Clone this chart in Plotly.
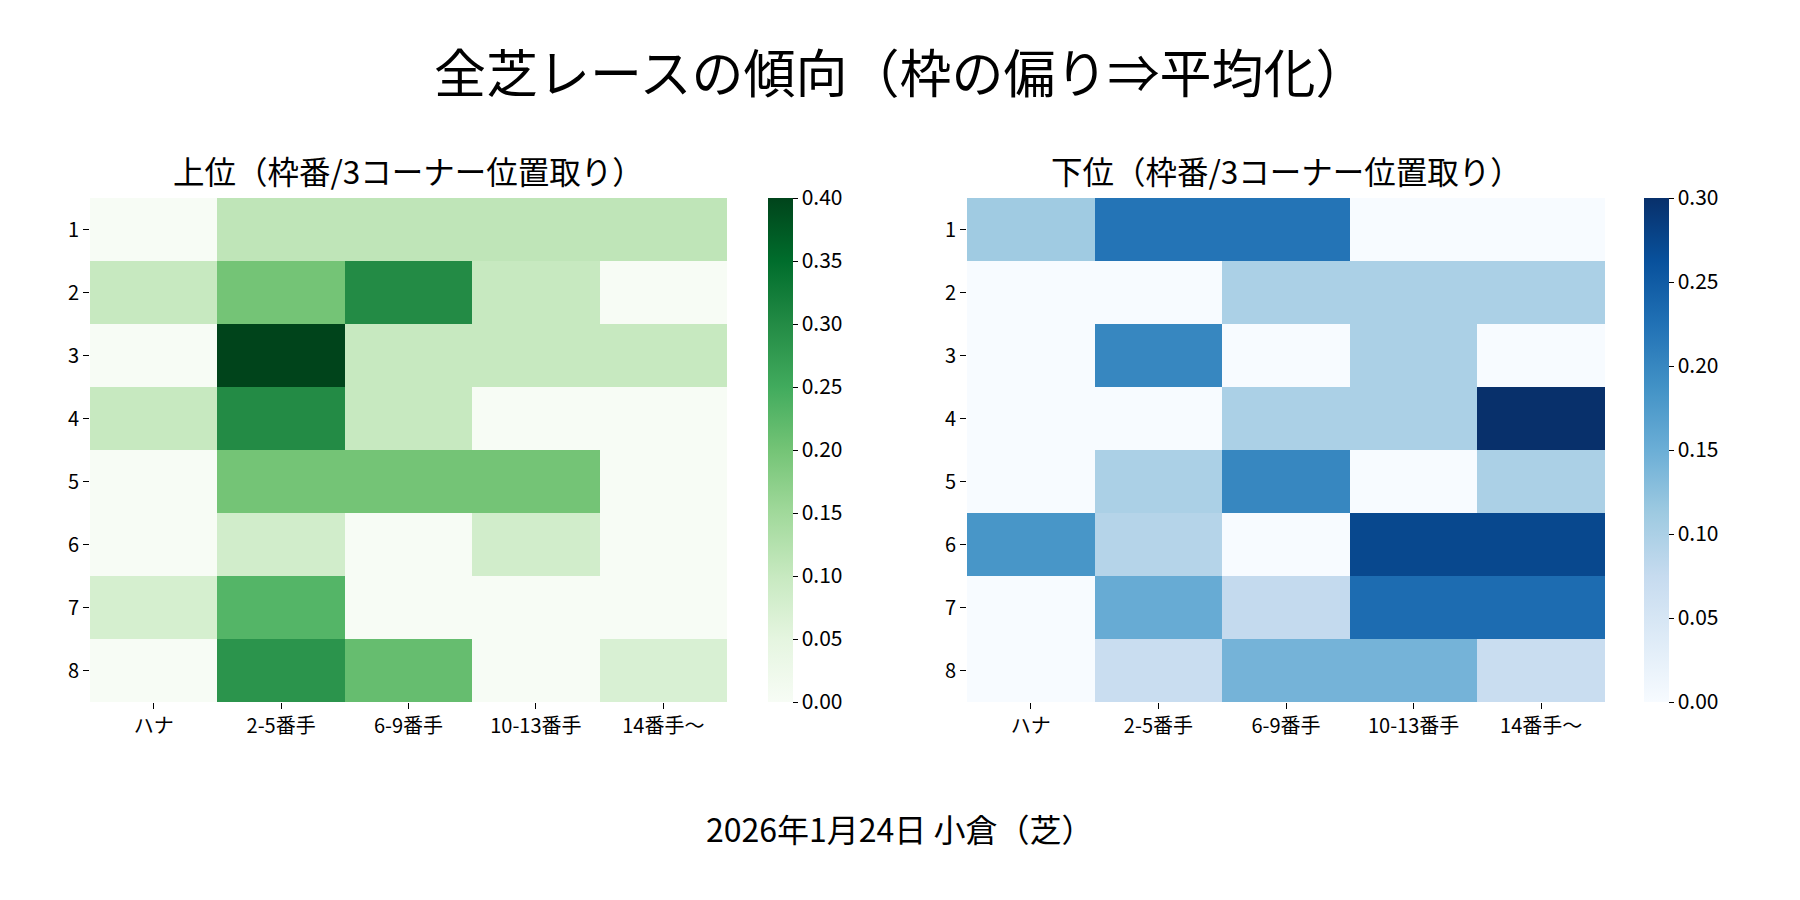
import plotly.graph_objects as go

# 枠番 x 3コーナー位置取り
waku = ["1", "2", "3", "4", "5", "6", "7", "8"]
ichi = ["ハナ", "2-5番手", "6-9番手", "10-13番手", "14番手〜"]

# 上位（3着以内）の割合
joui = [
    [0.0, 0.111, 0.111, 0.111, 0.111],
    [0.1, 0.2, 0.3, 0.1, 0.0],
    [0.0, 0.4, 0.1, 0.1, 0.1],
    [0.1, 0.3, 0.1, 0.0, 0.0],
    [0.0, 0.2, 0.2, 0.2, 0.0],
    [0.0, 0.083, 0.0, 0.083, 0.0],
    [0.077, 0.231, 0.0, 0.0, 0.0],
    [0.0, 0.286, 0.214, 0.0, 0.071],
]

# 下位の割合
kai = [
    [0.111, 0.222, 0.222, 0.0, 0.0],
    [0.0, 0.0, 0.1, 0.1, 0.1],
    [0.0, 0.2, 0.0, 0.1, 0.0],
    [0.0, 0.0, 0.1, 0.1, 0.3],
    [0.0, 0.1, 0.2, 0.0, 0.1],
    [0.182, 0.091, 0.0, 0.273, 0.273],
    [0.0, 0.154, 0.077, 0.231, 0.231],
    [0.0, 0.071, 0.143, 0.143, 0.071],
]

joui_ticks = [0.0, 0.05, 0.10, 0.15, 0.20, 0.25, 0.30, 0.35, 0.40]
kai_ticks = [0.0, 0.05, 0.10, 0.15, 0.20, 0.25, 0.30]

FONT = "Noto Sans CJK JP"
W, H = 1800, 900
OFF = 8  # ページの余白ぶんずらす


def px(x):
    return (x - OFF) / W


def py(y):
    return 1 - (y - OFF) / H


def cbar(x, ticks):
    return dict(
        x=px(x), xanchor="left", y=py(702), yanchor="bottom",
        len=504 / H, lenmode="fraction", thickness=25,
        xpad=0, ypad=0,
        outlinewidth=0, ticks="outside", ticklen=5, tickwidth=1.2,
        tickcolor="black", tickvals=ticks,
        ticktext=[f"{t:.2f}" for t in ticks],
        tickfont=dict(size=21, color="black", family=FONT),
    )


fig = go.Figure()
fig.add_trace(go.Heatmap(
    z=joui, x=ichi, y=waku, colorscale="Greens", zmin=0, zmax=0.40,
    colorbar=cbar(768, joui_ticks), xaxis="x", yaxis="y",
))
fig.add_trace(go.Heatmap(
    z=kai, x=ichi, y=waku, colorscale="Blues", zmin=0, zmax=0.30,
    colorbar=cbar(1644, kai_ticks), xaxis="x2", yaxis="y2",
))

ax = dict(
    showgrid=False, zeroline=False, showline=False, ticks="outside",
    ticklen=6, tickwidth=1.2, tickcolor="black",
    tickfont=dict(size=20, color="black", family=FONT),
)
ydom = [py(702), py(198)]
fig.update_layout(
    width=W, height=H,
    margin=dict(l=0, r=0, t=0, b=0),
    paper_bgcolor="white", plot_bgcolor="white",
    font=dict(family=FONT, color="black"),
    xaxis=dict(domain=[px(90), px(727)], anchor="y", **ax),
    yaxis=dict(domain=ydom, anchor="x", autorange="reversed", **ax),
    xaxis2=dict(domain=[px(967), px(1605)], anchor="y2", **ax),
    yaxis2=dict(domain=ydom, anchor="x2", autorange="reversed", **ax),
)


def label(text, x, y, size):
    fig.add_annotation(text=text, x=px(x), y=py(y), xref="paper", yref="paper",
                       xanchor="center", yanchor="middle", showarrow=False,
                       font=dict(size=size, family=FONT, color="black"))


label("全芝レースの傾向（枠の偏り⇒平均化）", 900, 70, 52)
label("上位（枠番/3コーナー位置取り）", 408, 170, 31.5)
label("下位（枠番/3コーナー位置取り）", 1286, 170, 31.5)
label("2026年1月24日 小倉（芝）", 900, 828, 32)

fig.write_html("out.html")
